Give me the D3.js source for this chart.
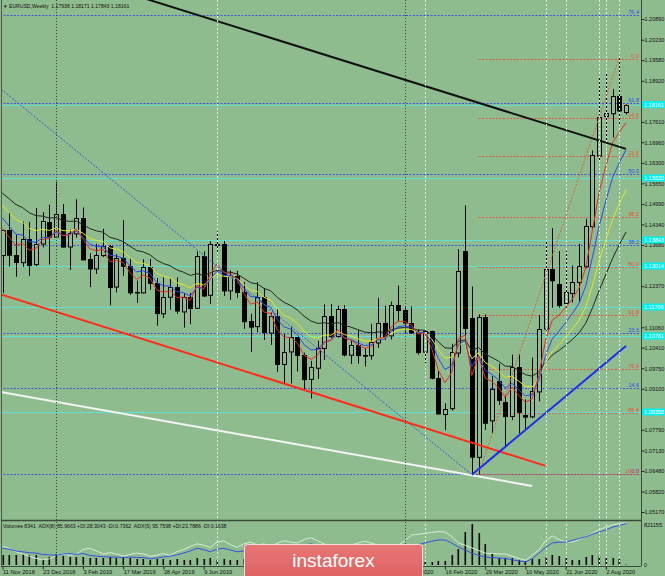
<!DOCTYPE html>
<html>
<head>
  <meta charset="utf-8">
  <script src="https://cdnjs.cloudflare.com/ajax/libs/d3/7.8.5/d3.min.js"></script>
  <style>
    body { margin: 0; background: #8fbc8f; }
    svg { display: block; }
    text { font-family: "Liberation Sans", Arial, sans-serif; }
  </style>
</head>
<body>
<svg id="chart"></svg>
<script>
  // ---- weekly EURUSD bars, 11 Nov 2018 .. 23 Aug 2020 (bar index 0..93)
  var open = [1.1336,1.1416,1.1337,1.1315,1.1389,1.1306,1.1372,1.1442,1.1396,1.1468,
    1.1364,1.1407,1.1456,1.1324,1.1294,1.1337,1.1366,1.1235,1.1326,1.1301,
    1.1217,1.1216,1.1297,1.1246,1.1150,1.1202,1.1233,1.1158,1.1204,1.1169,
    1.1334,1.1208,1.1370,1.1373,1.1225,1.1271,1.1220,1.1127,1.1109,1.1202,
    1.1090,1.1143,1.0990,1.1028,1.1074,1.1017,1.0940,1.0978,1.1041,1.1143,
    1.1079,1.1165,1.1020,1.1051,1.1019,1.1017,1.1059,1.1121,1.1079,1.1177,
    1.1161,1.1121,1.1091,1.1027,1.1093,1.0944,1.0831,1.0847,1.1026,1.1350,
    1.1136,1.0694,1.1140,1.0810,1.0935,1.0868,1.0823,1.0979,1.0826,1.0821,
    1.0902,1.1101,1.1291,1.1244,1.1185,1.1214,1.1249,1.1300,1.1428,1.1655,
    1.1778,1.1788,1.1843,1.17938];
  var high = [1.1417,1.1472,1.1402,1.1443,1.1442,1.1486,1.1473,1.1497,1.1570,1.1499,
    1.1417,1.1514,1.1488,1.1342,1.1372,1.1420,1.1368,1.1339,1.1448,1.1325,
    1.1255,1.1323,1.1324,1.1263,1.1265,1.1263,1.1265,1.1215,1.1216,1.1348,
    1.1348,1.1380,1.1412,1.1381,1.1287,1.1286,1.1250,1.1149,1.1250,1.1230,
    1.1153,1.1164,1.1085,1.1109,1.1075,1.1025,1.0999,1.1063,1.1179,1.1180,
    1.1175,1.1176,1.1065,1.1097,1.1039,1.1117,1.1200,1.1175,1.1188,1.1239,
    1.1173,1.1173,1.1099,1.1096,1.1095,1.0966,1.0864,1.1053,1.1355,1.1495,
    1.1236,1.1147,1.1147,1.0950,1.0990,1.0888,1.1019,1.1019,1.0876,1.1009,
    1.1145,1.1384,1.1422,1.1349,1.1349,1.1303,1.1372,1.1452,1.1670,1.1908,
    1.1916,1.1866,1.1966,1.18171];
  var low = [1.1216,1.1300,1.1267,1.1298,1.1269,1.1301,1.1361,1.1306,1.1395,1.1361,
    1.1289,1.1392,1.1322,1.1234,1.1276,1.1330,1.1176,1.1217,1.1270,1.1209,
    1.1184,1.1214,1.1226,1.1111,1.1135,1.1162,1.1149,1.1105,1.1116,1.1165,
    1.1202,1.1181,1.1347,1.1206,1.1193,1.1200,1.1101,1.1027,1.1090,1.1066,
    1.1050,1.0963,1.0926,1.0927,1.0965,1.0905,1.0879,1.0941,1.1002,1.1072,
    1.1073,1.1013,1.0989,1.0990,1.0981,1.1003,1.1040,1.1066,1.1067,1.1125,
    1.1085,1.1086,1.1019,1.0992,1.0940,1.0827,1.0778,1.0840,1.1010,1.1055,
    1.0636,1.0637,1.0779,1.0769,1.0858,1.0727,1.0810,1.0767,1.0775,1.0816,
    1.0870,1.1095,1.1168,1.1168,1.1168,1.1185,1.1186,1.1294,1.1422,1.1635,
    1.1696,1.1711,1.1753,1.17843];
  var close = [1.1416,1.1337,1.1315,1.1389,1.1306,1.1370,1.1444,1.1395,1.1468,1.1364,
    1.1407,1.1456,1.1324,1.1294,1.1337,1.1366,1.1235,1.1326,1.1301,1.1217,
    1.1216,1.1297,1.1246,1.1150,1.1202,1.1233,1.1158,1.1204,1.1169,1.1334,
    1.1208,1.1370,1.1373,1.1225,1.1271,1.1220,1.1127,1.1109,1.1202,1.1090,
    1.1143,1.0990,1.1028,1.1074,1.1017,1.0940,1.0978,1.1041,1.1143,1.1079,
    1.1165,1.1020,1.1051,1.1019,1.1017,1.1059,1.1121,1.1079,1.1176,1.1161,
    1.1121,1.1091,1.1027,1.1093,1.0944,1.0831,1.0847,1.1026,1.1286,1.1105,
    1.0694,1.1140,1.0803,1.0910,1.0875,1.0823,1.0979,1.0836,1.0821,1.0902,
    1.1101,1.1291,1.1255,1.1177,1.1220,1.1249,1.1300,1.1428,1.1655,1.1778,
    1.1788,1.1843,1.1797,1.18161];
  // closes of the weeks before the visible window (Jun..Nov 2018), for the averages
  var priorClose = [1.1658,1.1769,1.1605,1.1655,1.1684,1.1742,1.1686,1.1720,1.1657,1.1567,
    1.1411,1.1438,1.1622,1.1603,1.1550,1.1623,1.1750,1.1604,1.1524,1.1560,
    1.1512,1.1402,1.1388,1.1336];

  var volume = [200000,200000,200000,220000,200000,200000,120000,160000,220000,180000,
    160000,160000,160000,140000,140000,140000,160000,140000,160000,140000,
    120000,120000,100000,120000,120000,100000,120000,100000,100000,140000,
    120000,140000,100000,120000,100000,100000,120000,100000,120000,100000,
    100000,120000,100000,100000,100000,100000,100000,100000,120000,100000,
    100000,100000,80000,80000,60000,80000,100000,80000,60000,60000,
    80000,80000,80000,60000,60000,80000,80000,200000,320000,660000,
    821155,640000,420000,220000,140000,140000,140000,100000,80000,120000,
    120000,160000,200000,180000,140000,100000,100000,160000,200000,180000,
    140000,140000,120000,8341];
  var adx5 = [42,38,30,25,20,15,12,14,22,25,22,24,35,38,32,25,28,25,20,24,
    27,25,20,22,26,22,30,35,42,48,45,40,52,55,46,40,48,52,45,48,
    42,50,55,52,50,58,62,55,48,42,38,40,45,50,54,50,45,40,38,45,
    55,68,70,72,74,76,75,65,50,45,39,33,27,26,25,25,20,15,11,22,
    34,55,66,58,52,52,58,64,72,80,86,91,94,96];
  var adx8 = [38,36,32,30,28,27,24,23,22,25,26,24,26,22,20,19,18,18,17,18,
    17,17,14,16,18,20,23,27,32,38,35,30,36,38,34,30,32,35,33,35,
    34,38,40,40,40,45,48,44,40,36,33,33,35,38,40,38,36,34,32,34,
    38,41,46,50,54,57,57,50,41,34,27,22,18,17,16,15,12,9,7,14,
    27,40,50,52,52,56,60,64,70,75,80,86,90,94];

  // price grid of the right scale
  var priceTicks = [1.05170,1.05820,1.06480,1.07130,1.07790,1.08440,1.09100,1.09750,1.10410,1.11060,
    1.11720,1.12370,1.13030,1.13680,1.14340,1.14990,1.15650,1.16300,1.16960,1.17610,
    1.18270,1.18920,1.19580,1.20230,1.20890];
  var timeTickBars = [0,6,12,18,24,30,36,42,48,54,60,66,72,78,84,90];
  var timeTickLabels = ["11 Nov 2018","23 Dec 2018","3 Feb 2019","17 Mar 2019","28 Apr 2019","9 Jun 2019",
    "21 Jul 2019","1 Sep 2019","13 Oct 2019","24 Nov 2019","5 Jan 2020","16 Feb 2020",
    "29 Mar 2020","10 May 2020","21 Jun 2020","2 Aug 2020"];

  // fibonacci levels (label, price)
  var blueFibLabels = ["76.4","61.8","50.0","38.2","23.6","14.6","0.0"];
  var blueFibPrices = [1.21018,1.18211,1.15948,1.13683,1.10877,1.09123,1.06381];
  var redFibLabels = ["0.0","14.6","23.6","38.2","50.0","61.8","76.4","85.4","100.0"];
  var redFibPrices = [1.19624,1.17724,1.16521,1.14576,1.12998,1.11467,1.09745,1.08326,1.06381];
  var redFibStartBar = 71;

  // horizontal lines marked on the price scale
  var levelPrices = [1.18161,1.15820,1.13843,1.13014,1.11706,1.10781,1.08358];

  // trend lines: [bar, price] -> [bar, price]
  var blackTrend = [[12, 1.2216], [93, 1.1675]];
  var redTrend = [[-1, 1.1216], [81, 1.0664]];
  var whiteTrend = [[-1, 1.0902], [79, 1.0600]];
  var blueTrend = [[70, 1.0636], [93, 1.1046]];
  var blueDotTrend = [[-1, 1.1879], [70, 1.0636]];
  var redDotTrend = [[71, 1.0637], [92, 1.1966]];

  var blackVerticals = [8, 60];
  var whiteVerticals = [32, 63, 81, 84, 89, 90, 92];

  var W = 665, H = 576;
  var axisX = 641, mainBottom = 520, subTop = 521, subBottom = 566;
  var logo = { x: 244.5, y: 544.5, w: 178, h: 40 };

  var svg = d3.select("#chart").attr("width", W).attr("height", H);
  svg.append("rect").attr("width", W).attr("height", H).attr("fill", "#8fbc8f");

  var x = d3.scaleLinear().domain([0, 93]).range([2.5, 626]);
  var y = d3.scaleLinear().domain([1.05170, 1.20890]).range([512, 19]);
  var yVol = d3.scaleLinear().domain([0, 821155]).range([565, 524]);
  var yAdx = d3.scaleLinear().domain([0, 100]).range([565, 521]);

  var defs = svg.append("defs");
  defs.append("clipPath").attr("id", "mainClip")
    .append("rect").attr("x", 2).attr("y", 0).attr("width", axisX - 2).attr("height", mainBottom);
  defs.append("clipPath").attr("id", "subClip")
    .append("rect").attr("x", 2).attr("y", subTop + 1).attr("width", axisX - 2).attr("height", subBottom - subTop - 1);
  var grad = defs.append("linearGradient").attr("id", "logoGrad")
    .attr("x1", 0).attr("y1", 0).attr("x2", 0).attr("y2", 1);
  grad.append("stop").attr("offset", "0%").attr("stop-color", "#e87676");
  grad.append("stop").attr("offset", "100%").attr("stop-color", "#dc5e5e");

  var main = svg.append("g").attr("clip-path", "url(#mainClip)");
  var sub = svg.append("g").attr("clip-path", "url(#subClip)");

  //vertical marker lines through both windows
  function px(v) { return Math.round(v) + 0.5; }
  blackVerticals.forEach(function(b) {
    svg.append("line").attr("x1", px(x(b))).attr("x2", px(x(b)))
      .attr("y1", 0).attr("y2", subBottom)
      .attr("stroke", "#3a4a3a").attr("stroke-dasharray", "1,2");
  });
  whiteVerticals.forEach(function(b) {
    svg.append("line").attr("x1", px(x(b))).attr("x2", px(x(b)))
      .attr("y1", 0).attr("y2", subBottom)
      .attr("stroke", "#e4efe4").attr("stroke-dasharray", "2,2");
  });

  //horizontal levels
  levelPrices.forEach(function(p) {
    main.append("line").attr("x1", 0).attr("x2", axisX)
      .attr("y1", px(y(p))).attr("y2", px(y(p)))
      .attr("stroke", "#5fe0d2").attr("stroke-width", 1);
  });
  blueFibPrices.forEach(function(p) {
    main.append("line").attr("x1", 0).attr("x2", axisX - 2)
      .attr("y1", px(y(p))).attr("y2", px(y(p)))
      .attr("stroke", "#3a56e0").attr("stroke-dasharray", "2,1.5");
  });
  redFibPrices.forEach(function(p) {
    main.append("line").attr("x1", x(redFibStartBar)).attr("x2", axisX - 2)
      .attr("y1", px(y(p))).attr("y2", px(y(p)))
      .attr("stroke", "#e4583e").attr("stroke-dasharray", "2,1.5");
  });

  //candles
  var bars = d3.range(open.length);
  var candle = main.append("g").selectAll("g").data(bars).enter().append("g");
  candle.append("line")
    .attr("x1", function(i) { return px(x(i)); })
    .attr("x2", function(i) { return px(x(i)); })
    .attr("y1", function(i) { return y(high[i]); })
    .attr("y2", function(i) { return y(low[i]); })
    .attr("stroke", "#000");
  candle.append("rect")
    .attr("x", function(i) { return px(x(i)) - 2; })
    .attr("width", 4)
    .attr("y", function(i) { return Math.round(y(Math.max(open[i], close[i]))) + 0.5; })
    .attr("height", function(i) { return Math.max(0.5, Math.abs(y(open[i]) - y(close[i]))); })
    .attr("fill", function(i) { return close[i] < open[i] ? "#000" : "#8fbc8f"; })
    .attr("stroke", "#000");

  //exponential moving averages 5, 8, 13, 21
  function ema(period) {
    var all = priorClose.concat(close), k = 2 / (period + 1), e = all[0], out = [];
    all.forEach(function(c, j) {
      e = j === 0 ? c : c * k + e * (1 - k);
      var bar = j - priorClose.length;
      if (bar >= -1) out.push([bar, e]);
    });
    return out;
  }
  var maLine = d3.line().x(function(d) { return x(d[0]); }).y(function(d) { return y(d[1]); });
  [[21, "#1e261e"], [13, "#e6e620"], [8, "#2d45f0"], [5, "#f02a1e"]].forEach(function(m) {
    main.append("path").attr("d", maLine(ema(m[0])))
      .attr("fill", "none").attr("stroke", m[1]).attr("stroke-width", 1);
  });

  //trend lines
  function trend(pts, color, w, dash) {
    main.append("line")
      .attr("x1", x(pts[0][0])).attr("y1", y(pts[0][1]))
      .attr("x2", x(pts[1][0])).attr("y2", y(pts[1][1]))
      .attr("stroke", color).attr("stroke-width", w)
      .attr("stroke-dasharray", dash || null);
  }
  trend(blueDotTrend, "#3a56e0", 1, "2,1.5");
  trend(redDotTrend, "#e4583e", 1, "2,1.5");
  trend(whiteTrend, "#f4f4f4", 2);
  trend(redTrend, "#ff2a1a", 2);
  trend(blueTrend, "#1c2cf4", 2);
  trend(blackTrend, "#111", 2);

  //fib labels
  blueFibPrices.forEach(function(p, i) {
    svg.append("text").attr("x", 639).attr("y", y(p) - 1)
      .attr("text-anchor", "end").attr("font-size", 5.5).attr("fill", "#2f4ee6")
      .text(blueFibLabels[i]);
  });
  redFibPrices.forEach(function(p, i) {
    svg.append("text").attr("x", 639).attr("y", y(p) - 1)
      .attr("text-anchor", "end").attr("font-size", 5.5).attr("fill", "#e8503a")
      .text(redFibLabels[i]);
  });

  //sub window: volumes and ADX
  sub.append("g").selectAll("rect").data(bars).enter().append("rect")
    .attr("x", function(i) { return Math.round(x(i)) - 0.5; })
    .attr("width", 1.6)
    .attr("y", function(i) { return yVol(volume[i]); })
    .attr("height", function(i) { return 565 - yVol(volume[i]); })
    .attr("fill", "#000");
  var adxLine = d3.line().x(function(d, i) { return x(i); }).y(function(d) { return yAdx(d); });
  sub.append("path").attr("d", adxLine(adx5)).attr("fill", "none")
    .attr("stroke", "#d8ecd8").attr("stroke-width", 1);
  sub.append("path").attr("d", adxLine(adx8)).attr("fill", "none")
    .attr("stroke", "#3750e6").attr("stroke-width", 1);

  //frames
  svg.append("line").attr("x1", 1.5).attr("x2", 1.5).attr("y1", 0).attr("y2", subBottom).attr("stroke", "#4a5a4a");
  svg.append("line").attr("x1", axisX + 0.5).attr("x2", axisX + 0.5).attr("y1", 0).attr("y2", subBottom).attr("stroke", "#3a4a3a");
  svg.append("line").attr("x1", 1).attr("x2", axisX).attr("y1", mainBottom + 0.5).attr("y2", mainBottom + 0.5)
    .attr("stroke", "#3a4a3a").attr("stroke-width", 1.5);
  svg.append("line").attr("x1", 1).attr("x2", axisX).attr("y1", subBottom + 0.5).attr("y2", subBottom + 0.5)
    .attr("stroke", "#3a4a3a");

  //price scale; labels that sit under a level tag are hidden as on the terminal
  var shownTicks = priceTicks.filter(function(t) {
    return !levelPrices.some(function(p) { return Math.abs(y(p) - y(t)) < 5; });
  });
  var yAxis = svg.append("g").attr("transform", "translate(" + (axisX + 0.5) + ",0)")
    .call(d3.axisRight(y).tickValues(shownTicks).tickSize(3).tickPadding(0).tickFormat(d3.format(".5f")));
  yAxis.select(".domain").remove();
  yAxis.selectAll("line").attr("stroke", "#222");
  yAxis.selectAll("text").attr("font-size", 5.5).attr("fill", "#111")
    .attr("font-family", "Liberation Sans, Arial, sans-serif").attr("x", 3);

  //level tags on the price scale
  levelPrices.forEach(function(p) {
    svg.append("rect").attr("x", axisX + 1).attr("y", y(p) - 3.5).attr("width", W - axisX - 1).attr("height", 7)
      .attr("fill", "#00f0f0");
    svg.append("text").attr("x", axisX + 3).attr("y", y(p) + 2).attr("font-size", 5.5)
      .attr("fill", "#ffffff").text(d3.format(".5f")(p));
  });

  //time scale; dates covered by the logo are not written
  var xAxis = svg.append("g").attr("transform", "translate(0," + (subBottom + 0.5) + ")")
    .call(d3.axisBottom(x).tickValues(timeTickBars).tickSize(3).tickFormat(function(d, i) {
      var xs = x(d);
      return (xs >= logo.x - 1 && xs < logo.x + logo.w - 20) ? "" : timeTickLabels[i];
    }));
  xAxis.select(".domain").remove();
  xAxis.selectAll("line").attr("stroke", "#222");
  xAxis.selectAll("text").attr("font-size", 5.7).attr("fill", "#111")
    .attr("font-family", "Liberation Sans, Arial, sans-serif")
    .attr("text-anchor", "start").attr("y", 3).attr("dy", "0.71em");

  //sub window scale
  svg.append("text").attr("x", axisX + 3).attr("y", 527).attr("font-size", 5.5).attr("fill", "#111").text("821155");
  svg.append("text").attr("x", axisX + 3).attr("y", 567).attr("font-size", 5.5).attr("fill", "#111").text("0");

  //captions
  svg.append("text").attr("x", 3).attr("y", 8).attr("font-size", 4.5).attr("fill", "#111")
    .attr("font-family", "DejaVu Sans").text("\u25BC");
  svg.append("text").attr("x", 9).attr("y", 8).attr("font-size", 5.1).attr("fill", "#111")
    .attr("xml:space", "preserve")
    .text("EURUSD,Weekly  1.17938 1.18171 1.17843 1.18161");
  svg.append("text").attr("x", 3).attr("y", 528).attr("font-size", 5.2).attr("fill", "#111")
    .attr("xml:space", "preserve")
    .text("Volumes 8341  ADX(8) 85.9663 +DI:28.3043 -DI:0.7362  ADX(5) 95.7598 +DI:23.7886 -DI:0.1638");

  //logo
  svg.append("rect").attr("x", logo.x).attr("y", logo.y).attr("width", logo.w).attr("height", logo.h).attr("rx", 3)
    .attr("fill", "url(#logoGrad)").attr("stroke", "#f6dede").attr("stroke-width", 1);
  svg.append("text").attr("x", logo.x + logo.w / 2).attr("y", 567).attr("text-anchor", "middle")
    .attr("font-family", "Roboto, 'Open Sans', sans-serif").attr("font-size", 19).attr("fill", "#fff")
    .text("instaforex");
</script>
</body>
</html>
